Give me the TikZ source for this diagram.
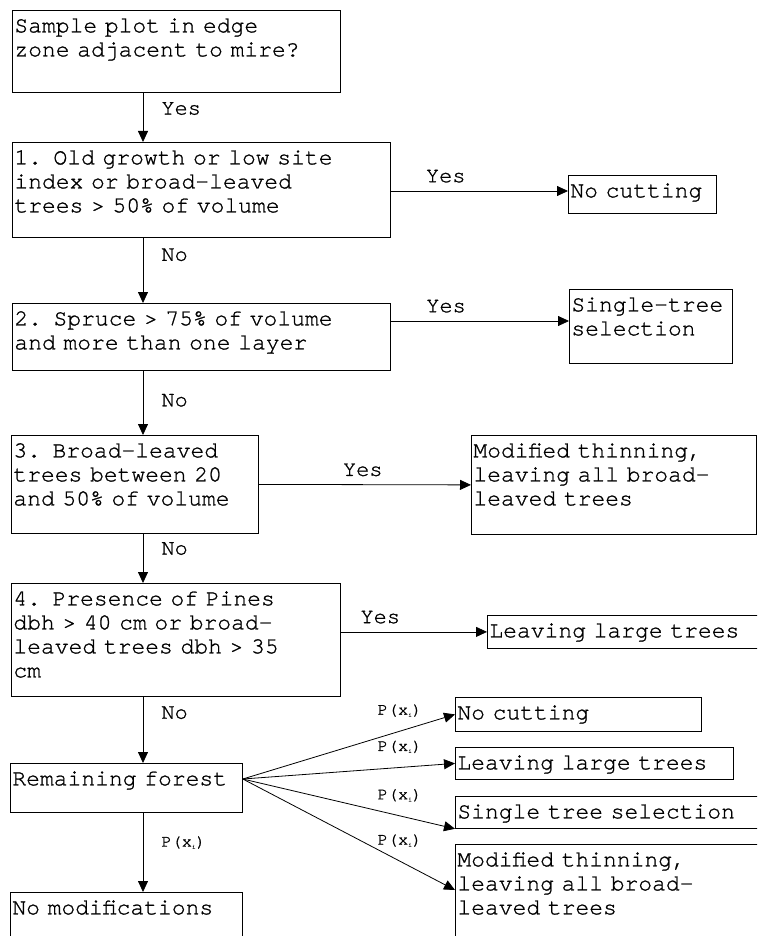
\documentclass[tikz,border=0pt]{standalone}
\usepackage{fontspec}
\setmonofont[FakeBold=1]{TeX Gyre Cursor}
\usetikzlibrary{arrows.meta}
\newcommand{\pxi}{P(x\raisebox{-2pt}{\fontsize{6}{6}\selectfont i})}

\begin{document}
\begin{tikzpicture}[
    x=1pt, y=-1pt,  % coordinates as on the page, y going down
    box/.style = {draw, line width=0.8pt, anchor=north west, align=left,
                  inner xsep=2pt, inner ysep=3pt, text height=19pt,
                  font=\fontsize{23}{24}\selectfont\ttfamily},
    line/.style = {line width=0.8pt, -{Triangle[length=11pt,width=10pt]}},
    lab/.style = {inner sep=2pt, font=\fontsize{22}{22}\selectfont\ttfamily},
    plab/.style = {inner sep=1pt, font=\fontsize{17}{17}\selectfont\ttfamily}
  ]
    \useasboundingbox (0,0) rectangle (757,936);
    \clip (0,0) rectangle (757,936);
    \coordinate (spine) at (143,0);   % all downward arrows sit on this x

    % questions, left column
    \node[box, text width=324pt, text depth=57pt] (q0) at (12,10) {Sample plot in edge\\zone adjacent to mire?};
    \node[box, text width=374pt, text depth=70pt] (q1) at (12,142) {1. Old growth or low site\\index or broad-leaved\\trees > 50\% of volume};
    \node[box, text width=374pt, text depth=42pt] (q2) at (12,303) {2. Spruce > 75\% of volume\\and more than one layer};
    \node[box, text width=243pt, text depth=73pt] (q3) at (11,435) {3. Broad-leaved\\trees between 20\\and 50\% of volume};
    \node[box, text width=325pt, text depth=88pt] (q4) at (11,583) {4. Presence of Pines\\dbh > 40 cm or broad-\\leaved trees dbh > 35\\cm};
    \node[box, text width=228pt, text depth=24pt] (rf) at (10,763) {Remaining forest};
    \node[box, text width=228pt, text depth=35pt] (nm) at (10,892) {No modifications};

    % treatments, right column
    \node[box, text width=144pt, text depth=13pt] (nc1) at (568,175) {No cutting};
    \node[box, text width=159pt, text depth=49pt] (st1) at (569,289) {Single-tree\\selection};
    \node[box, text width=281pt, text depth=74pt] (mt1) at (471,435) {Modified thinning,\\leaving all broad-\\leaved trees};
    \node[box, text width=300pt, text depth=8pt] (ll1) at (487,615) {Leaving large trees};
    \node[box, text width=242pt, text depth=9pt] (nc2) at (455,697) {No cutting};
    \node[box, text width=274pt, text depth=7pt] (ll2) at (455,747) {Leaving large trees};
    \node[box, text width=316pt, text depth=7pt] (st2) at (455,796) {Single tree selection};
    \node[box, text width=316pt, text depth=85pt] (mt2) at (455,844) {Modified thinning,\\leaving all broad-\\leaved trees};

    % No branch, straight down
    \draw[line] (q0.south -| spine) -- node[lab, pos=0.32, right=16pt] {Yes} (q1.north -| spine);
    \draw[line] (q1.south -| spine) -- node[lab, pos=0.26, right=16pt] {No} (q2.north -| spine);
    \draw[line] (q2.south -| spine) -- node[lab, pos=0.46, right=16pt] {No} (q3.north -| spine);
    \draw[line] (q3.south -| spine) -- node[lab, pos=0.30, right=16pt] {No} (q4.north -| spine);
    \draw[line] (q4.south -| spine) -- node[lab, pos=0.24, right=16pt] {No} (rf.north -| spine);
    \draw[line] (rf.south -| spine) -- node[plab, pos=0.375, right=17pt] {\pxi} (nm.north -| spine);

    % Yes branch, to the right
    \draw[line] (q1.east |- 0,191) -- node[lab, pos=0.31, above=6pt] {Yes} (nc1.west |- 0,191);
    \draw[line] (q2.east |- 0,321) -- node[lab, pos=0.31, above=6pt] {Yes} (st1.west |- 0,321);
    \draw[line] (q3.east) -- node[lab, pos=0.49, above=6pt] {Yes} (mt1.west);
    \draw[line] (q4.east |- ll1.west) -- node[lab, pos=0.27, above=6pt] {Yes} (ll1.west);

    % remaining forest fans out
    \draw[line] (rf.east |- 0,779) -- node[plab, pos=0.74, above=13pt] {\pxi} (nc2.west);
    \draw[line] (rf.east |- 0,779) -- node[plab, pos=0.74, above=13pt] {\pxi} (ll2.west);
    \draw[line] (rf.east |- 0,779) -- node[plab, pos=0.74, above=13pt] {\pxi} (st2.south west);
    \draw[line] (rf.east |- 0,779) -- node[plab, pos=0.74, above=13pt] {\pxi} ([yshift=-46pt]mt2.north west);
\end{tikzpicture}
\end{document}
